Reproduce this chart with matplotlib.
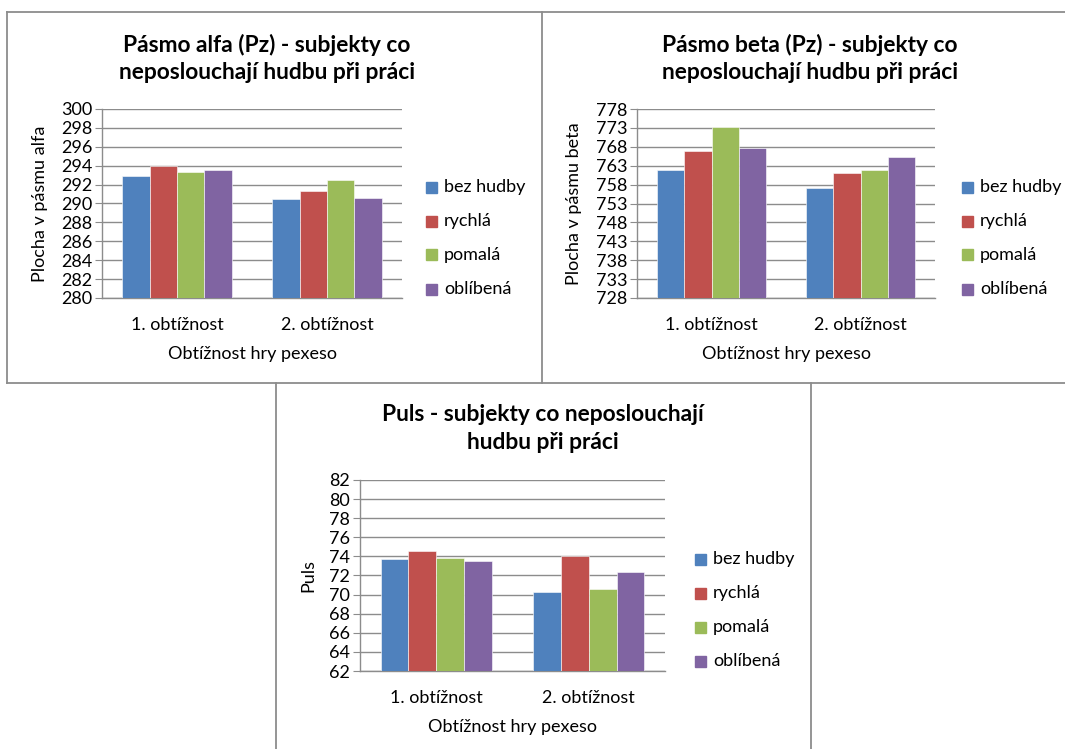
import matplotlib
matplotlib.use("Agg")
import matplotlib.pyplot as plt
from matplotlib.lines import Line2D
from matplotlib.patches import Rectangle

plt.rcParams['font.family'] = ['Lato', 'DejaVu Sans']

W, H = 1065, 749

categories = ['1. obtížnost', '2. obtížnost']
series = ['bez hudby', 'rychlá', 'pomalá', 'oblíbená']
colors = ['#4F81BD', '#C0504D', '#9BBB59', '#8064A2']

alfa = {
    'bez hudby': [292.9, 290.5],
    'rychlá': [294.0, 291.3],
    'pomalá': [293.3, 292.5],
    'oblíbená': [293.5, 290.6],
}
beta = {
    'bez hudby': [761.9, 757.0],
    'rychlá': [766.8, 761.0],
    'pomalá': [773.3, 761.9],
    'oblíbená': [767.6, 765.2],
}
puls = {
    'bez hudby': [73.7, 70.3],
    'rychlá': [74.6, 74.0],
    'pomalá': [73.8, 70.6],
    'oblíbená': [73.5, 72.4],
}

alfa_ticks = list(range(280, 301, 2))
beta_ticks = list(range(728, 779, 5))
puls_ticks = list(range(62, 83, 2))

fig = plt.figure(figsize=(W / 100, H / 100), dpi=100)

FS = 13


def px_axes(x0, y0, x1, y1):
    return fig.add_axes([x0 / W, 1 - y1 / H, (x1 - x0) / W, (y1 - y0) / H])


def hline(x0, x1, y):
    fig.add_artist(Line2D([x0 / W, x1 / W], [1 - y / H, 1 - y / H], color='#8c8c8c', lw=1.3))


def vline(x, y0, y1):
    fig.add_artist(Line2D([x / W, x / W], [1 - y0 / H, 1 - y1 / H], color='#8c8c8c', lw=1.3))


def chart(box, data, ticks, ylabel, title, cx, ty, leg_x, leg_y, ylab_x, xlab_y):
    ax = px_axes(*box)
    bw = 0.182
    for i, (name, col) in enumerate(zip(series, colors)):
        xs = [c + 0.5 + (i - 1.5) * bw for c in range(len(categories))]
        ax.bar(xs, [v - ticks[0] for v in data[name]], bw, bottom=ticks[0], color=col,
               edgecolor='white', linewidth=0.4, zorder=3)
    ax.set_xlim(0, 2)
    ax.set_ylim(ticks[0], ticks[-1])
    ax.set_yticks(ticks)
    ax.set_xticks([0.5, 1.5])
    ax.set_xticklabels(categories, fontsize=FS)
    ax.tick_params(axis='y', labelsize=FS, length=5, color='#8c8c8c', pad=2)
    ax.tick_params(axis='x', length=0, pad=14)
    ax.yaxis.grid(True, color='#8c8c8c', lw=1.0, zorder=0)
    for s in ['top', 'right']:
        ax.spines[s].set_visible(False)
    for s in ['left', 'bottom']:
        ax.spines[s].set_color('#8c8c8c')
        ax.spines[s].set_linewidth(1.0)
    ax.set_ylabel(ylabel, fontsize=FS, va='center')
    ax.yaxis.set_label_coords((ylab_x - box[0]) / (box[2] - box[0]), 0.5)
    ax.set_xlabel('Obtížnost hry pexeso', fontsize=FS, va='center')
    ax.xaxis.set_label_coords(0.5, -(xlab_y - box[3]) / (box[3] - box[1]))
    fig.text(cx / W, 1 - ty / H, title, ha='center', va='center', fontsize=16.4,
             fontweight='bold', linespacing=1.38)
    for i, (name, col) in enumerate(zip(series, colors)):
        yy = leg_y + i * 34
        fig.add_artist(Rectangle((leg_x / W, 1 - (yy + 5.5) / H), 11 / W, 11 / H,
                                 transform=fig.transFigure, color=col))
        fig.text((leg_x + 18) / W, 1 - yy / H, name, ha='left', va='center', fontsize=FS)
    return ax


chart((102, 109, 402, 298), alfa, alfa_ticks, 'Plocha v pásmu alfa',
      'Pásmo alfa (Pz) - subjekty co\nneposlouchají hudbu při práci',
      267, 58.5, 426, 187, 40, 354)
chart((637, 109, 935, 298), beta, beta_ticks, 'Plocha v pásmu beta',
      'Pásmo beta (Pz) - subjekty co\nneposlouchají hudbu při práci',
      810, 58.5, 962, 187, 574, 354)
chart((360, 480, 665, 671), puls, puls_ticks, 'Puls',
      'Puls - subjekty co neposlouchají\nhudbu při práci',
      543, 428.5, 695, 559, 308, 727)

# panel borders
hline(7, W, 12)
vline(7, 12, 383)
vline(542, 12, 383)
hline(7, W, 383)
vline(276, 383, H)
vline(811, 383, H)

fig.savefig('out.png', dpi=100, facecolor='white')
